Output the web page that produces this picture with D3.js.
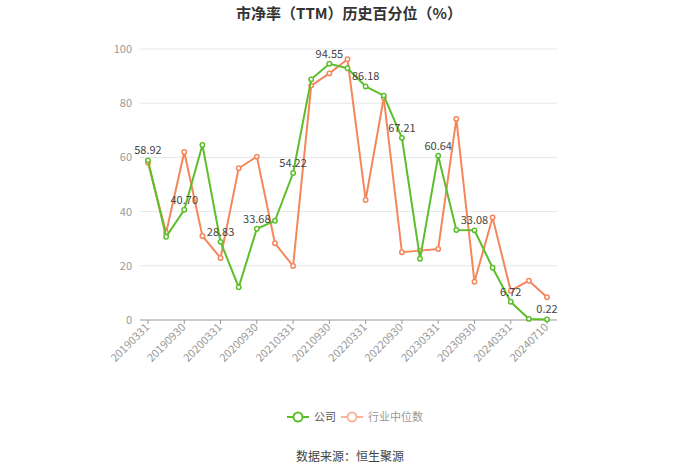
<!DOCTYPE html>
<html><head><meta charset="utf-8">
<script src="https://cdn.jsdelivr.net/npm/d3@7/dist/d3.min.js"></script>
<style>body{margin:0;background:#fff;font-family:"Microsoft YaHei","Noto Sans CJK SC",sans-serif;}</style>
</head><body><svg id="c" width="700" height="474"></svg>
<script>
const dates = ["20190331","20190630","20190930","20191231","20200331","20200630","20200930","20201231","20210331","20210630","20210930","20211231","20220331","20220630","20220930","20221231","20230331","20230630","20230930","20231231","20240331","20240630","20240710"];
const company = [58.92,30.7,40.70,64.6,28.83,12.1,33.68,36.6,54.22,88.8,94.55,92.9,86.18,82.8,67.21,22.6,60.64,33.2,33.08,19.3,6.72,0.4,0.22];
const industry = [58.0,32.2,62.0,31.0,22.9,56.0,60.3,28.3,19.9,86.5,91.0,96.2,44.3,82.0,25.0,25.6,26.2,74.2,14.1,37.8,10.8,14.5,8.4];
const yTicks = [0,20,40,60,80,100];
const labelIdx = [0,2,4,6,8,10,12,14,16,18,20,22];
const seriesNames = ["公司","行业中位数"];
const green = "#5cbf2a", orange = "#f5865c";

const svg = d3.select("#c");
const font = '"Microsoft YaHei","Noto Sans CJK SC",sans-serif';
const x = d3.scalePoint().domain(dates).range([148,547]);
const y = d3.scaleLinear().domain([0,100]).range([320,49]);

svg.append("text").attr("x",349).attr("y",19).attr("text-anchor","middle")
  .attr("font-size",15).attr("font-weight","bold").attr("fill","#333").attr("font-family",font)
  .text("市净率（TTM）历史百分位（%）");

// grid
svg.append("g").selectAll("line").data(yTicks.filter(d=>d>0)).join("line")
  .attr("x1",140).attr("x2",557).attr("y1",d=>y(d)).attr("y2",d=>y(d))
  .attr("stroke","#e6e6e6").attr("stroke-width",1);
// y labels
svg.append("g").selectAll("text").data(yTicks).join("text")
  .attr("x",132).attr("y",d=>y(d)+4).attr("text-anchor","end")
  .attr("font-size",11).attr("fill","#999").attr("font-family",font).text(d=>d);

// x axis
const xa = svg.append("g").attr("transform","translate(0,320)");
xa.append("line").attr("x1",140).attr("x2",557).attr("stroke","#999");
const tickDates = labelIdx.map(i=>dates[i]);
xa.selectAll("line.t").data(tickDates).join("line").attr("class","t")
  .attr("x1",d=>x(d)).attr("x2",d=>x(d)).attr("y1",0).attr("y2",4).attr("stroke","#999");
xa.selectAll("text").data(tickDates).join("text")
  .attr("transform",d=>`translate(${x(d)+2},${8}) rotate(-45)`)
  .attr("text-anchor","end").attr("font-size",11).attr("fill","#999").attr("font-family",font).text(d=>d);

function drawSeries(vals,color){
  const line = d3.line().x((d,i)=>x(dates[i])).y(d=>y(d));
  svg.append("path").datum(vals).attr("d",line).attr("fill","none").attr("stroke",color).attr("stroke-width",2);
  svg.append("g").selectAll("circle").data(vals).join("circle")
    .attr("cx",(d,i)=>x(dates[i])).attr("cy",d=>y(d)).attr("r",2.2)
    .attr("fill","#fff").attr("stroke",color).attr("stroke-width",1.5);
}
drawSeries(industry,orange);
drawSeries(company,green);

svg.append("g").selectAll("text").data(labelIdx).join("text")
  .attr("x",i=>x(dates[i])).attr("y",i=>y(company[i])-6).attr("text-anchor","middle")
  .attr("font-size",11).attr("fill","#444").attr("font-family",font)
  .text(i=>company[i].toFixed(2));

// legend
const lg = svg.append("g");
function legItem(x0,color,name,tcol){
  lg.append("line").attr("x1",x0).attr("x2",x0+22).attr("y1",417).attr("y2",417).attr("stroke",color).attr("stroke-width",2);
  lg.append("circle").attr("cx",x0+11).attr("cy",417).attr("r",4.5).attr("fill","#fff").attr("stroke",color).attr("stroke-width",2);
  lg.append("text").attr("x",x0+27).attr("y",421).attr("font-size",11).attr("fill",tcol).attr("font-family",font).text(name);
}
legItem(287,green,seriesNames[0],"#555");
legItem(341,"#f8b59c",seriesNames[1],"#999");

svg.append("text").attr("x",350).attr("y",461).attr("text-anchor","middle")
  .attr("font-size",12).attr("fill","#444").attr("font-family",font).text("数据来源：恒生聚源");
</script></body></html>
